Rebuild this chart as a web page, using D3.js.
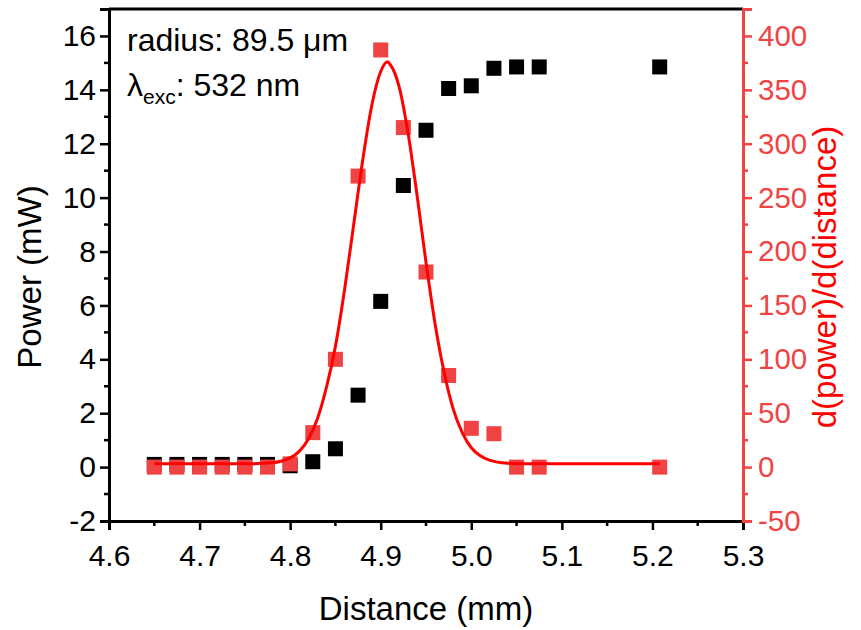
<!DOCTYPE html>
<html>
<head>
<meta charset="utf-8">
<script src="https://cdn.jsdelivr.net/npm/d3@7"></script>
<style>
  body { margin: 0; background: #fff; }
  svg { display: block; font-family: "Liberation Sans", Arial, sans-serif; }
</style>
</head>
<body>
<svg id="chart" width="861" height="630"></svg>
<script>
// ---- data ----
const distance = [4.65, 4.675, 4.70, 4.725, 4.75, 4.775, 4.80, 4.825, 4.85, 4.875, 4.90, 4.925, 4.95, 4.975, 5.00, 5.025, 5.05, 5.075, 5.208];
const power = [0.1, 0.1, 0.1, 0.1, 0.1, 0.1, 0.05, 0.2, 0.68, 2.67, 6.15, 10.45, 12.5, 14.05, 14.15, 14.8, 14.85, 14.85, 14.85];
const derivative = [0, 0, 0, 0, 0, 0, 3, 32, 100, 270, 387, 315, 181, 85, 36, 31, 0, 0, 0];
// Gaussian fit curve
const fitX = [4.65, 4.75, 4.78, 4.80, 4.81, 4.82, 4.83, 4.84, 4.85, 4.86, 4.87, 4.88, 4.89, 4.90, 4.9075, 4.91, 4.92, 4.93, 4.94, 4.95, 4.96, 4.97, 4.98, 4.99, 5.00, 5.01, 5.02, 5.04, 5.06, 5.208];
const fitY = [3, 3, 4, 8.5, 14.6, 25.8, 44.6, 73.7, 112, 164, 224, 284, 335, 367, 376, 374, 354, 311, 253, 190, 133, 88, 54, 32, 18, 10.5, 6.5, 3.6, 3, 3];
const xTicks = [4.6, 4.7, 4.8, 4.9, 5.0, 5.1, 5.2, 5.3];
const yLeftTicks = [-2, 0, 2, 4, 6, 8, 10, 12, 14, 16];
const yRightTicks = [-50, 0, 50, 100, 150, 200, 250, 300, 350, 400];

// ---- layout ----
const svg = d3.select("#chart");
const L = 109, R = 743, T = 9, B = 521;
const red = "#f04444";
const x = d3.scaleLinear().domain([4.6, 5.3]).range([L, R]);
const yL = d3.scaleLinear().domain([-2, 17]).range([B, T]);
const yR = d3.scaleLinear().domain([-50, 425]).range([B, T]);

const fs = 30;
const rfs = 29.5;
const tfs = 33;
const FONT = "Liberation Sans, Arial, sans-serif";

const xMinor = d3.range(4.65, 5.3, 0.1);
const yLMinor = d3.range(-1, 17, 2);
const yRMinor = d3.range(-25, 425, 50);

// bottom axis
const gx = svg.append("g").attr("transform", `translate(0,${B})`);
gx.call(d3.axisBottom(x).tickValues(xTicks).tickFormat(d3.format(".1f")).tickSizeOuter(0).tickSize(9).tickPadding(15));
gx.selectAll(".tick line").attr("stroke", "#000").attr("stroke-width", 2.5);
gx.select(".domain").attr("stroke", "#000").attr("stroke-width", 3);
gx.selectAll("text").attr("font-size", fs).attr("fill", "#000").attr("font-family", FONT);
gx.selectAll(".minor").data(xMinor).enter().append("line").attr("class", "minor")
  .attr("x1", d => x(d)).attr("x2", d => x(d)).attr("y1", 0).attr("y2", 5)
  .attr("stroke", "#000").attr("stroke-width", 2.5);

// top line
svg.append("line").attr("x1", L).attr("x2", R).attr("y1", T).attr("y2", T).attr("stroke", "#000").attr("stroke-width", 3);

// left axis
const gl = svg.append("g").attr("transform", `translate(${L},0)`);
gl.call(d3.axisLeft(yL).tickValues(yLeftTicks).tickFormat(d => String(d)).tickSizeOuter(0).tickSize(9).tickPadding(4));
gl.selectAll(".tick line").attr("stroke", "#000").attr("stroke-width", 2.5);
gl.select(".domain").attr("stroke", "#000").attr("stroke-width", 3);
gl.selectAll("text").attr("font-size", fs).attr("fill", "#000").attr("font-family", FONT);
gl.selectAll(".minor").data(yLMinor).enter().append("line").attr("class", "minor")
  .attr("y1", d => yL(d)).attr("y2", d => yL(d)).attr("x1", 0).attr("x2", -5)
  .attr("stroke", "#000").attr("stroke-width", 2.5);

// right axis
const gr = svg.append("g").attr("transform", `translate(${R},0)`);
gr.call(d3.axisRight(yR).tickValues(yRightTicks).tickFormat(d => String(d)).tickSizeOuter(0).tickSize(9).tickPadding(6));
gr.selectAll(".tick line").attr("stroke", red).attr("stroke-width", 2.5);
gr.select(".domain").attr("stroke", red).attr("stroke-width", 3);
gr.selectAll("text").attr("font-size", rfs).attr("fill", red).attr("font-family", FONT);
gr.selectAll(".minor").data(yRMinor).enter().append("line").attr("class", "minor")
  .attr("y1", d => yR(d)).attr("y2", d => yR(d)).attr("x1", 0).attr("x2", 5)
  .attr("stroke", red).attr("stroke-width", 2.5);

// data: black squares (power)
const S = 15;
svg.append("g").selectAll("rect").data(distance).enter().append("rect")
  .attr("x", (d) => x(d) - S / 2).attr("y", (d, i) => yL(power[i]) - S / 2)
  .attr("width", S).attr("height", S).attr("fill", "#000");

// red squares (derivative)
svg.append("g").selectAll("rect").data(distance).enter().append("rect")
  .attr("x", (d) => x(d) - S / 2).attr("y", (d, i) => yR(derivative[i]) - S / 2)
  .attr("width", S).attr("height", S).attr("fill", red);

// fit curve
const line = d3.line().x(d => x(d[0])).y(d => yR(d[1])).curve(d3.curveMonotoneX);
svg.append("path").datum(fitX.map((v, i) => [v, fitY[i]]))
  .attr("d", line).attr("fill", "none").attr("stroke", "#ff0000").attr("stroke-width", 3);

// axis titles
svg.append("text").attr("x", 426).attr("y", 620).attr("text-anchor", "middle")
  .attr("font-size", tfs).attr("fill", "#000").text("Distance (mm)");
svg.append("text").attr("transform", `translate(41,${(T + B) / 2 + 12}) rotate(-90)`).attr("text-anchor", "middle")
  .attr("font-size", tfs).attr("fill", "#000").text("Power (mW)");
svg.append("text").attr("transform", `translate(836,${(T + B) / 2 + 12}) rotate(-90)`).attr("text-anchor", "middle")
  .attr("font-size", tfs).attr("fill", "#ff0000").text("d(power)/d(distance)");

// annotations
svg.append("text").attr("x", 127).attr("y", 51).attr("font-size", 32).attr("fill", "#000").text("radius: 89.5 μm");
const t2 = svg.append("text").attr("x", 127).attr("y", 96).attr("font-size", 32).attr("fill", "#000");
t2.append("tspan").text("λ");
t2.append("tspan").attr("font-size", 21).attr("dy", 8).text("exc");
t2.append("tspan").attr("dy", -8).text(": 532 nm");
</script>
</body>
</html>
